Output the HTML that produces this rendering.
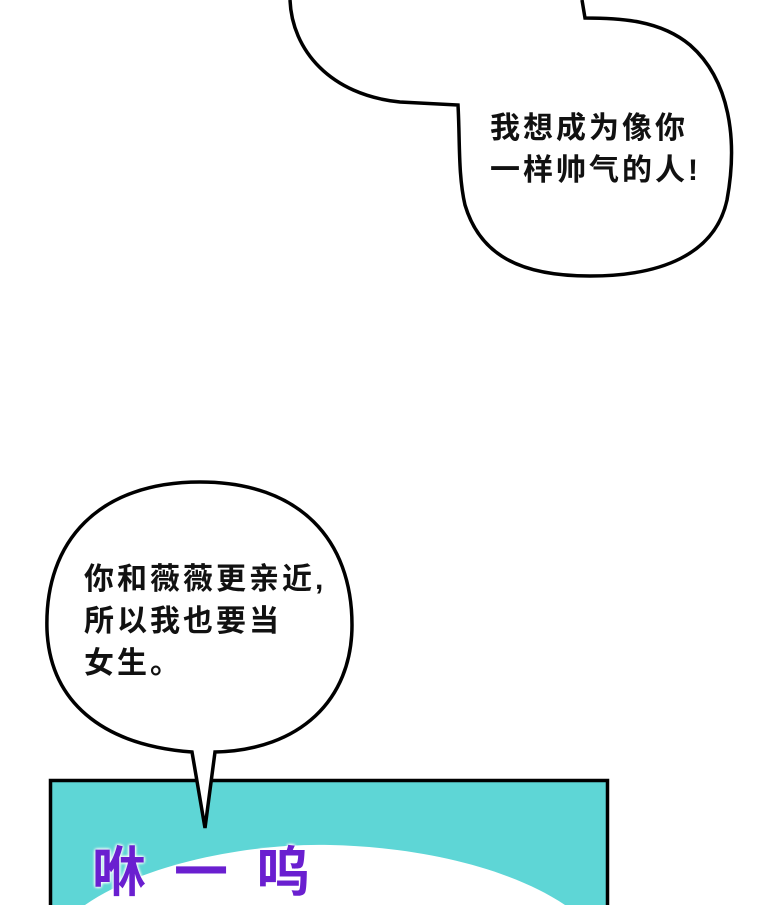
<!DOCTYPE html>
<html><head><meta charset="utf-8"><style>
body{margin:0;width:760px;height:905px;background:#fff;overflow:hidden;position:relative;font-family:"Liberation Sans","Noto Sans CJK SC",sans-serif}
svg{position:absolute;left:0;top:0}
.t{position:absolute;font-size:30px;line-height:42px;color:#111;font-weight:700;letter-spacing:3px}
</style></head><body>
<svg width="760" height="905">
<path d="M290,0 C292,50 330,95 400,102 L458,105 C460,140 458,175 465,205 C480,255 520,276 590,276 C660,276 715,255 727,200 C738,140 730,80 690,45 C660,20 620,18 585,18 L582,0" fill="#fff" stroke="#000" stroke-width="3.5"/>
<rect x="50.5" y="780.5" width="557" height="140" fill="#5ed6d6" stroke="#000" stroke-width="3.5"/>
<path d="M85,905 C150,860 260,843 330,845 C420,847 510,868 565,905 Z" fill="#fff"/>
<path d="M192,752 C100,745 50,700 47,630 C44,540 100,482 200,482 C300,482 352,540 352,625 C352,700 300,750 215,752 L205,828 Z" fill="#fff" stroke="#000" stroke-width="3.5" stroke-linejoin="miter"/>
</svg>
<div class="t" style="left:490px;top:108px">我想成为像你<br>一样帅气的人!</div>
<div class="t" style="left:84px;top:559px">你和薇薇更亲近,<br>所以我也要当<br>女生。</div>
<div style="position:absolute;left:92px;top:828px;font-size:54px;font-weight:700;color:#6a1fd0;font-family:'WenQuanYi Zen Hei','Noto Sans CJK SC',sans-serif;letter-spacing:28px;text-shadow:0 0 3px #fff,0 0 3px #fff,0 0 3px #fff">咻一呜</div>
</body></html>
